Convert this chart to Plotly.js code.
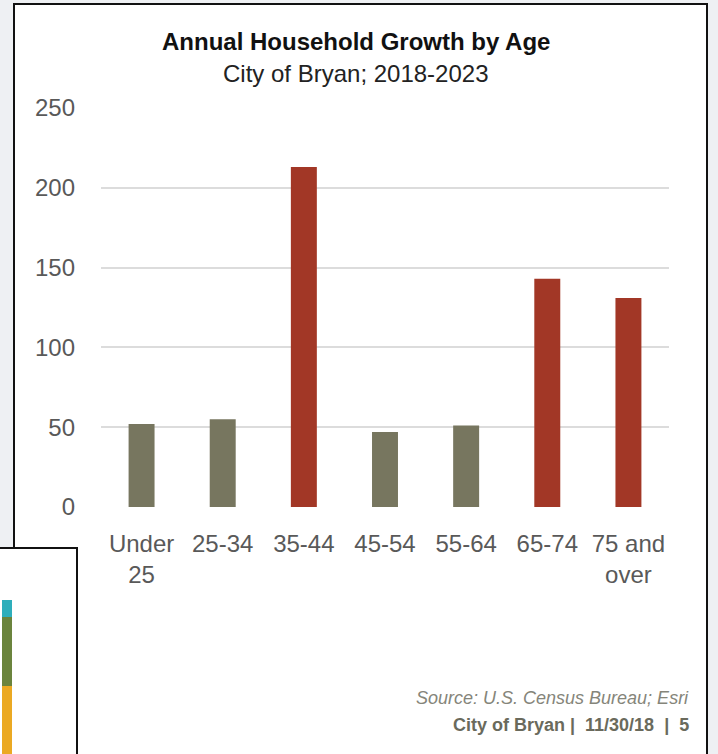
<!DOCTYPE html>
<html>
<head>
<meta charset="utf-8">
<script src="https://cdn.plot.ly/plotly-3.0.1.min.js"></script>
<style>
  html, body { margin:0; padding:0; width:718px; height:754px; overflow:hidden; background:#eef0f3; }
  #frame { position:absolute; left:13px; top:3px; width:691px; height:749px; border:2px solid #111; background:#fff; box-sizing:content-box; }
  #chart { position:absolute; left:0; top:0; width:718px; height:754px; }
  #inset { position:absolute; left:-3px; top:547px; width:77px; height:210px; border:2px solid #111; background:#fff; z-index:5; }
  .strip { position:absolute; left:3px; width:10px; }
</style>
</head>
<body>
<div id="frame"></div>
<div id="chart"></div>
<div id="inset">
  <div class="strip" style="top:51px;height:17px;background:#2eaebb;"></div>
  <div class="strip" style="top:68px;height:69px;background:#6b843d;"></div>
  <div class="strip" style="top:137px;height:80px;background:#eba923;"></div>
</div>
<script>
// ---- data ----
const categories = ["Under<br>25", "25-34", "35-44", "45-54", "55-64", "65-74", "75 and<br>over"];
const growth = [52, 55, 213, 47, 51, 143, 131];
const barColors = ["#77765f", "#77765f", "#a23726", "#77765f", "#77765f", "#a23726", "#a23726"];
const yTicks = [0, 50, 100, 150, 200, 250];
const titleText = "Annual Household Growth by Age";
const subtitleText = "City of Bryan; 2018-2023";
const sourceText = "Source: U.S. Census Bureau; Esri";
const footerText = "City of Bryan |&nbsp; 11/30/18 &nbsp;| &nbsp;5";

const W = 718, H = 754;
const M = {l: 101, r: 49, t: 108, b: 247};
const pw = W - M.l - M.r, ph = H - M.t - M.b;
const px = x => (x - M.l) / pw;
const py = y => (H - M.b - y) / ph;
const FONT = '"Liberation Sans", Arial, Helvetica, sans-serif';

const trace = {
  type: 'bar',
  x: categories,
  y: growth,
  marker: { color: barColors },
  hoverinfo: 'x+y'
};

const layout = {
  width: W, height: H,
  margin: M,
  paper_bgcolor: 'rgba(0,0,0,0)',
  plot_bgcolor: 'rgba(0,0,0,0)',
  bargap: 0.68,
  showlegend: false,
  font: { family: FONT, color: '#595959' },
  xaxis: {
    type: 'category',
    tickfont: { size: 24, color: '#595959', family: FONT },
    showgrid: false, zeroline: false, showline: false,
    ticks: '', ticklabelstandoff: 20
  },
  yaxis: {
    range: [0, 250],
    tickvals: yTicks,
    tickfont: { size: 24, color: '#595959', family: FONT },
    showgrid: true, gridcolor: '#dcdcdc', gridwidth: 2,
    zeroline: false, showline: false,
    ticks: '', ticklabelstandoff: 25
  },
  annotations: [
    { text: '<b>' + titleText + '</b>', xref: 'paper', yref: 'paper', x: px(356), y: py(42),
      xanchor: 'center', yanchor: 'middle', showarrow: false, font: { size: 24, color: '#111', family: FONT } },
    { text: subtitleText, xref: 'paper', yref: 'paper', x: px(356), y: py(74),
      xanchor: 'center', yanchor: 'middle', showarrow: false, font: { size: 24, color: '#222', family: FONT } },
    { text: '<i>' + sourceText + '</i>', xref: 'paper', yref: 'paper', x: px(691), y: py(698),
      xanchor: 'right', yanchor: 'middle', showarrow: false, font: { size: 18, color: '#85857a', family: FONT } },
    { text: '<b>' + footerText + '</b>', xref: 'paper', yref: 'paper', x: px(691), y: py(725),
      xanchor: 'right', yanchor: 'middle', showarrow: false, font: { size: 18, color: '#6a6a5c', family: FONT } }
  ]
};

Plotly.newPlot('chart', [trace], layout, { displayModeBar: false, staticPlot: true });
</script>
</body>
</html>
